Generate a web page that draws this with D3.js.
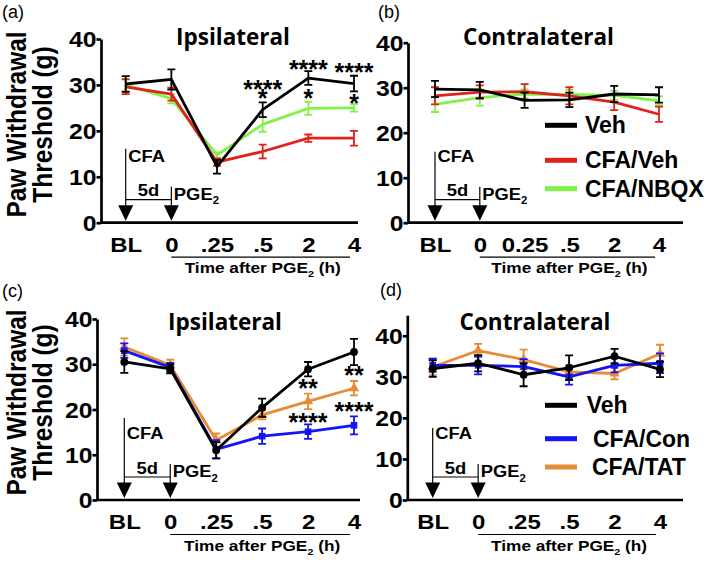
<!DOCTYPE html>
<html><head><meta charset="utf-8">
<script src="https://cdn.jsdelivr.net/npm/d3@7"></script>
<style>body{margin:0;background:#fff}svg{display:block}</style>
</head><body>
<svg id="chart" width="714" height="562"></svg>
<script>
// ---------------- DATA ----------------
const catsIpsi = ["BL","0",".25",".5","2","4"];
const catsContraB = ["BL","0","0.25",".5","2","4"];
const catsContraD = ["BL","0",".25",".5","2","4"];
const yTicks = [0,10,20,30,40];

// (a) Ipsilateral
const aVeh = [30.2, 31.2, 12.2, 24.6, 31.5, 30.3];
const aVehErr = [1.7, 2.2, 1.5, 1.6, 1.5, 1.7];
const aCfaVeh = [29.6, 28.0, 13.2, 15.5, 18.4, 18.4];
const aCfaVehErr = [1.6, 1.4, 0.8, 1.5, 0.8, 1.6];
const aCfaNbqx = [30.0, 27.0, 14.7, 21.4, 24.9, 25.0];
const aCfaNbqxErr = [1.3, 1.0, 0.6, 1.6, 1.4, 0.8];
const aStars = [
  {cat:".5", text:"****", y:30.3}, {cat:".5", text:"*", y:28.2},
  {cat:"2", text:"****", y:34.6}, {cat:"2", text:"*", y:28.2},
  {cat:"4", text:"****", y:34.0}, {cat:"4", text:"*", y:27.2}
];

// (b) Contralateral
const bVeh = [29.7, 29.5, 27.2, 27.3, 28.6, 28.4];
const bVehErr = [1.8, 1.8, 1.7, 1.6, 1.8, 1.7];
const bCfaVeh = [28.2, 29.0, 29.1, 28.2, 26.8, 24.1];
const bCfaVehErr = [1.9, 1.5, 1.7, 1.9, 1.8, 1.7];
const bCfaNbqx = [26.3, 27.8, 28.6, 28.5, 28.3, 27.1];
const bCfaNbqxErr = [1.7, 1.8, 1.0, 1.0, 1.0, 1.0];

// (c) Ipsilateral
const cVeh = [30.5, 29.0, 11.0, 20.4, 28.9, 32.7];
const cVehErr = [2.4, 1.0, 1.8, 2.0, 1.6, 2.9];
const cCfaCon = [33.0, 29.3, 11.2, 14.1, 15.1, 16.5];
const cCfaConErr = [1.6, 1.0, 2.0, 1.7, 1.6, 2.0];
const cCfaTat = [33.8, 29.8, 13.2, 18.8, 21.8, 24.7];
const cCfaTatErr = [1.9, 1.2, 1.5, 1.0, 1.7, 1.6];
const cStars = [
  {cat:"2", text:"**", y:25.8}, {cat:"2", text:"****", y:18.4},
  {cat:"4", text:"**", y:28.7}, {cat:"4", text:"****", y:20.8}
];

// (d) Contralateral
const dVeh = [32.0, 33.3, 30.5, 32.2, 35.0, 31.8];
const dVehErr = [2.0, 2.0, 2.8, 3.0, 1.8, 1.9];
const dCfaCon = [32.8, 32.8, 32.5, 30.0, 32.8, 33.3];
const dCfaConErr = [1.6, 2.2, 1.8, 1.9, 1.7, 2.4];
const dCfaTat = [32.4, 36.4, 34.2, 31.2, 30.8, 35.6];
const dCfaTatErr = [2.0, 1.6, 2.4, 1.6, 1.4, 2.2];

const legendB = ["Veh", "CFA/Veh", "CFA/NBQX"];
const legendD = ["Veh", "CFA/Con", "CFA/TAT"];

// ---------------- STYLE ----------------
const BLACK = "#000000", RED = "#e0221c", GREEN = "#80f24a", BLUE = "#1414f4", ORANGE = "#e68b36";
const ARIAL = "'Liberation Sans', Arial, Helvetica, sans-serif";
const TITLEF = "'Open Sans', 'Liberation Sans', sans-serif";
const SX = 1.15;

const svg = d3.select("#chart");

const panels = [
  {tag:"(a)", tagPos:[2,18], title:"Ipsilateral", titlePos:[233,45], cats:catsIpsi,
   axisX:101, axisEnd:358, xr:[125.7,354], yr:[222.7,39], ymax:40, yTitleY:124.5,
   series:[{v:aCfaNbqx,e:aCfaNbqxErr,c:GREEN},{v:aCfaVeh,e:aCfaVehErr,c:RED},{v:aVeh,e:aVehErr,c:BLACK}],
   stars:aStars, ann:{cfaTop:-74}},
  {tag:"(b)", tagPos:[378,18], title:"Contralateral", titlePos:[538.5,45], cats:catsContraB,
   axisX:408, axisEnd:683, xr:[435,659], yr:[222.7,42.7], ymax:40,
   series:[{v:bCfaNbqx,e:bCfaNbqxErr,c:GREEN},{v:bCfaVeh,e:bCfaVehErr,c:RED},{v:bVeh,e:bVehErr,c:BLACK}],
   legend:{names:legendB, colors:[BLACK,RED,GREEN], lineX:[545,577], textX:[585,585,585], base:[133.3,168.3,196.7]},
   ann:{cfaTop:-71}},
  {tag:"(c)", tagPos:[2,297], title:"Ipsilateral", titlePos:[225,330], cats:catsIpsi,
   axisX:97, axisEnd:360, xr:[124.3,354], yr:[500,319], ymax:40, yTitleY:402.5,
   series:[{v:cCfaTat,e:cCfaTatErr,c:ORANGE,m:"tri"},{v:cCfaCon,e:cCfaConErr,c:BLUE,m:"sq"},{v:cVeh,e:cVehErr,c:BLACK,m:"circ"}],
   stars:cStars, ann:{cfaTop:-82}},
  {tag:"(d)", tagPos:[380,296], title:"Contralateral", titlePos:[535,330], cats:catsContraD,
   axisX:407.3, axisEnd:683, xr:[432.7,660], yr:[500,315.2], ymax:45,
   series:[{v:dCfaTat,e:dCfaTatErr,c:ORANGE,m:"tri"},{v:dCfaCon,e:dCfaConErr,c:BLUE,m:"sq"},{v:dVeh,e:dVehErr,c:BLACK,m:"circ"}],
   legend:{names:legendD, colors:[BLACK,BLUE,ORANGE], lineX:[545,577], textX:[586.7,593,592], base:[413.3,446.7,475]},
   ann:{cfaTop:-72}}
];

function pgeText(sel, main, after, size) {
  sel.append("tspan").text(main);
  sel.append("tspan").attr("font-size", size*0.62).attr("dy", size*0.28).text("2");
  if (after) sel.append("tspan").attr("dy", -size*0.28).text(after);
}

function drawPanel(P) {
  const g = svg.append("g");
  const x = d3.scalePoint().domain(P.cats).range(P.xr);
  const y = d3.scaleLinear().domain([0, P.ymax]).range(P.yr);
  const y0 = y(0);

  // panel tag
  g.append("text").attr("x", P.tagPos[0]).attr("y", P.tagPos[1])
    .attr("font-family", ARIAL).attr("font-size", 18).text(P.tag);

  // title
  g.append("text").attr("x", P.titlePos[0]).attr("y", P.titlePos[1])
    .attr("text-anchor", "middle").attr("font-family", TITLEF).attr("font-weight", 700)
    .attr("font-size", 22.5).text(P.title);

  // y axis
  const ya = g.append("g").attr("transform", `translate(${P.axisX},0)`)
    .call(d3.axisLeft(y).tickValues(yTicks).tickSize(4.5).tickSizeOuter(0).tickFormat(d3.format("d")));
  ya.select(".domain").attr("stroke-width", 2.7).attr("stroke", "#000");
  ya.selectAll(".tick line").attr("stroke-width", 2.7).attr("stroke", "#000");
  ya.selectAll(".tick text").attr("x", null).attr("dy", null)
    .attr("transform", `translate(-4.5,7.7) scale(${SX},1)`)
    .attr("font-family", ARIAL).attr("font-weight", 700).attr("font-size", 21.5).attr("fill", "#000");

  // x axis line
  g.append("line").attr("x1", P.axisX).attr("x2", P.axisEnd).attr("y1", y0).attr("y2", y0)
    .attr("stroke", "#000").attr("stroke-width", 2.7);
  const xa = g.append("g").attr("transform", `translate(0,${y0})`).call(d3.axisBottom(x).tickSize(0));
  xa.select(".domain").remove();
  xa.selectAll(".tick text").attr("y", null).attr("dy", null)
    .attr("transform", `translate(0,29.2) scale(1.2,1)`)
    .attr("font-family", ARIAL).attr("font-weight", 700).attr("font-size", 20).attr("fill", "#000");

  // subtitle line + text
  const xs0 = x(P.cats[1]), xs1 = x(P.cats[5]);
  g.append("line").attr("x1", xs0).attr("x2", xs1 - 4).attr("y1", y0 + 34.5).attr("y2", y0 + 34.5)
    .attr("stroke", "#000").attr("stroke-width", 1.2);
  const st = g.append("text").attr("transform", `translate(${(xs0 + xs1) / 2},${y0 + 50.5}) scale(${SX},1)`)
    .attr("text-anchor", "middle").attr("font-family", ARIAL).attr("font-weight", 700).attr("font-size", 15);
  pgeText(st, "Time after PGE", " (h)", 15);

  // y axis title
  if (P.yTitleY !== undefined) {
    [["Paw Withdrawal", 25.5], ["Threshold (g)", 52]].forEach(([t, bx]) => {
      g.append("text").attr("transform", `translate(${bx},${P.yTitleY}) scale(1.12,1) rotate(-90)`)
        .attr("text-anchor", "middle").attr("font-family", ARIAL).attr("font-weight", 700)
        .attr("font-size", 24.5).text(t);
    });
  }

  // annotations: CFA / 5d / PGE2 arrows
  const xBL = x(P.cats[0]), xZero = x(P.cats[1]);
  const ann = g.append("g");
  ann.append("line").attr("x1", xBL).attr("x2", xBL).attr("y1", y0 + P.ann.cfaTop).attr("y2", y0 - 10)
    .attr("stroke", "#000").attr("stroke-width", 1.2);
  ann.append("line").attr("x1", xZero).attr("x2", xZero).attr("y1", y0 - 36).attr("y2", y0 - 10)
    .attr("stroke", "#000").attr("stroke-width", 1.2);
  ann.append("line").attr("x1", xBL).attr("x2", xZero).attr("y1", y0 - 23).attr("y2", y0 - 23)
    .attr("stroke", "#000").attr("stroke-width", 1.2);
  [xBL, xZero].forEach(cx => {
    ann.append("path").attr("d", `M${cx - 7.5},${y0 - 17.5} L${cx + 7.5},${y0 - 17.5} L${cx},${y0 - 2} Z`)
      .attr("fill", "#000");
  });
  ann.append("text").attr("transform", `translate(${xBL + 2.5},${y0 - 61}) scale(1.08,1)`)
    .attr("font-family", ARIAL).attr("font-weight", 700).attr("font-size", 17).text("CFA");
  ann.append("text").attr("transform", `translate(${(xBL + xZero) / 2},${y0 - 26.5}) scale(1.08,1)`)
    .attr("text-anchor", "middle").attr("font-family", ARIAL).attr("font-weight", 700).attr("font-size", 17).text("5d");
  const pg = ann.append("text").attr("transform", `translate(${xZero + 2.5},${y0 - 23}) scale(1.08,1)`)
    .attr("font-family", ARIAL).attr("font-weight", 700).attr("font-size", 17);
  pgeText(pg, "PGE", null, 17);

  // series
  P.series.forEach(s => {
    const pts = P.cats.map((c, i) => ({c, v: s.v[i], e: s.e[i]}));
    const eb = g.append("g").attr("stroke", s.c).attr("stroke-width", 1.8).attr("fill", "none");
    eb.selectAll("path").data(pts).join("path")
      .attr("d", d => {
        const cx = x(d.c), t = y(d.v + d.e), b = y(d.v - d.e);
        return `M${cx},${t}V${b}M${cx - 4},${t}H${cx + 4}M${cx - 4},${b}H${cx + 4}`;
      });
    g.append("path").datum(pts)
      .attr("d", d3.line().x(d => x(d.c)).y(d => y(d.v)))
      .attr("fill", "none").attr("stroke", s.c).attr("stroke-width", 2.8).attr("stroke-linejoin", "round");
    if (s.m) {
      const type = s.m === "circ" ? d3.symbolCircle : s.m === "sq" ? d3.symbolSquare : d3.symbolTriangle;
      const size = s.m === "circ" ? 48 : s.m === "sq" ? 44 : 46;
      g.append("g").selectAll("path").data(pts).join("path")
        .attr("transform", d => `translate(${x(d.c)},${y(d.v)})`)
        .attr("d", d3.symbol(type, size)).attr("fill", s.c);
    }
  });

  // significance stars: one text element per time point, one tspan per row
  if (P.stars) {
    const byCat = d3.group(P.stars, d => d.cat);
    g.append("g").selectAll("text").data(Array.from(byCat)).join("text")
      .attr("text-anchor", "middle").attr("font-family", ARIAL).attr("font-weight", 700)
      .attr("font-size", 25)
      .each(function([cat, rows]) {
        d3.select(this).selectAll("tspan").data(rows).join("tspan")
          .attr("x", x(cat)).attr("y", d => y(d.y) + 14).text(d => d.text);
      });
  }

  // legend
  if (P.legend) {
    const L = P.legend;
    L.names.forEach((n, i) => {
      g.append("line").attr("x1", L.lineX[0]).attr("x2", L.lineX[1])
        .attr("y1", L.base[i] - 8).attr("y2", L.base[i] - 8)
        .attr("stroke", L.colors[i]).attr("stroke-width", 5);
      g.append("text").attr("x", L.textX[i]).attr("y", L.base[i])
        .attr("font-family", ARIAL).attr("font-weight", 700).attr("font-size", 23).text(n);
    });
  }
}

panels.forEach(drawPanel);
</script>
</body></html>
